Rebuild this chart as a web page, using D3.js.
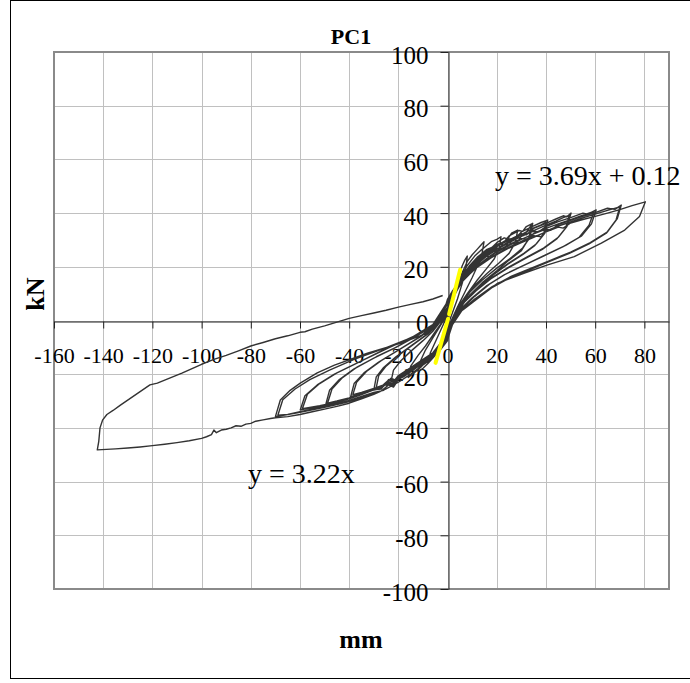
<!DOCTYPE html>
<html><head><meta charset="utf-8">
<script src="https://cdn.jsdelivr.net/npm/d3@7"></script>
<style>body{margin:0;background:#fff}svg{display:block}</style>
</head><body>
<script>
// ---------- data ----------
const xTicks = [-160,-140,-120,-100,-80,-60,-40,-20,0,20,40,60,80];
const yTicks = [-100,-80,-60,-40,-20,0,20,40,60,80,100];
const chartTitle = "PC1", xTitle = "mm", yTitle = "kN";

// hysteresis cycles [mm, kN]
const loop1 = [[0,0],[1,4],[2,8],[3,12],[4,15],[5,18],[6,20.5],[7,22.5],[8,24],
  [7.5,20],[6,14],[4,8],[2,3],[0,-2],
  [-2,-6.5],[-4,-10.5],[-6,-14],[-8,-16],
  [-7,-12],[-5,-8],[-3,-4],[-1,0],[0,2]];
const loop2 = [[2,8],[4,13.5],[6,18],[8,22],[10,24.5],[12,26.5],[13.5,28],[14.8,29.3],
  [14,25],[12,20],[10,16],[7,10.5],[4,5],[2,1],[0,-3],
  [-2,-7.5],[-4,-11],[-6,-14],[-8,-16],[-10,-17.8],[-12,-19],
  [-11,-15],[-9,-11],[-6,-6.5],[-3,-2],[0,2.5]];
const loop3 = [[2,8],[4,13],[6,17],[8,20.5],[11,24],[14,26.5],[16,28],[18,29.5],[20,30.2],[21.7,31.2],
  [21,27],[19,23],[16,19.5],[12,15],[8,10],[5,6],[2,1],[0,-3.5],
  [-2,-7.5],[-5,-11.5],[-8,-14.5],[-11,-17.5],[-14,-19.8],[-16,-21.2],
  [-15,-17],[-12,-13],[-9,-9.5],[-6,-5.5],[-3,-1.5],[0,3]];
const loop4 = [[2,8],[4,12.5],[6,16.5],[9,20.5],[12,23.5],[16,26.5],[18,27.2],[20,29],[23,30.8],[24.5,30.4],[26,32.5],[28.5,33.7],
  [27.5,29],[25,25],[21,21.5],[16,17.5],[11,13],[7,8.5],[4,4],[1,-1.5],[0,-4],
  [-3,-8.5],[-6,-12],[-10,-15.5],[-14,-18.5],[-18,-21],[-21,-22.3],[-23,-22.8],
  [-22,-18.5],[-19,-15],[-15,-11.5],[-10,-7.5],[-6,-4],[-3,-0.5],[0,4]];
const loop5 = [[2,8.5],[4,12.5],[6,16],[9,20],[12,23],[16,26],[20,28.5],[22,28.2],[25,31.5],[29,33.5],[30.5,33.2],[32,35],[34.6,36.2],
  [33.5,31],[30.5,27],[26,23.5],[20,19.5],[14,15],[9,10.5],[5,5.5],[2,0.5],[0,-4.5],
  [-3,-9],[-6,-12],[-10,-15],[-15,-18.5],[-20,-21.5],[-22,-23.8],[-24,-23],[-27,-25],[-30,-25.9],
  [-29,-21],[-26,-17.5],[-21,-13.5],[-15,-9.5],[-9,-5.5],[-4,-1],[0,4.5]];
const loop5b = [[2,8],[4,11.5],[6,14.5],[9,18],[12,21],[16,24],[18,23.6],[20,26.5],[25,29.5],[29,32],[31,31.6],[34,35.5],
  [33,30.5],[30,26],[25,22.5],[20,18.5],[14,14],[9,9.5],[5,4.5],[2,-0.5],[0,-5],
  [-3,-9.5],[-6,-12.5],[-10,-15],[-15,-18],[-19,-20.5],[-21,-22.8],[-23,-21.9],[-26,-24.2],[-29,-25],
  [-28,-20.5],[-25,-17],[-20,-13],[-14,-9],[-8,-5],[-3,-0.5],[0,4.5]];
const loop6 = [[2,9],[4,12.5],[6,15.5],[9,19.5],[12,22.5],[16,25.5],[20,28],[25,30.5],[27,30.1],[30,33],[35,35.2],[38,36.5],[40.7,37.4],
  [39.5,32.5],[36,28.5],[31,25],[25,21.5],[19,17.5],[13,13],[8,8.5],[4,3.5],[1,-2],[0,-5],
  [-3,-9],[-6,-12],[-10,-14.5],[-15,-17.5],[-20,-20.5],[-22,-22.8],[-24,-22],[-26,-24.5],[-30,-25.8],[-35,-27.3],[-39.4,-28.4],
  [-38,-23.5],[-34,-19.5],[-28,-15.5],[-20,-11],[-12,-6.5],[-5,-1.5],[0,5]];
const loop6b = [[2,8.5],[4,12],[6,15],[9,18.5],[12,21.5],[16,24.5],[20,27],[23,26.6],[25,29.5],[30,32],[35,34.5],[38,35.6],[40,36.6],
  [39,32],[35.5,28],[30.5,24.5],[24.5,21],[18.5,17],[12.5,12.5],[7.5,8],[3.5,3],[1,-2.5],[0,-5.5],
  [-3,-9.5],[-6,-12.5],[-10,-15],[-15,-18],[-19,-20],[-21,-22.3],[-23,-21.5],[-26,-24],[-30,-25.3],[-35,-26.8],[-38.5,-27.6],
  [-37,-23],[-33,-19],[-27,-15],[-19,-10.5],[-11,-6],[-4,-1],[0,5]];
const loop7 = [[2,9],[4,12.5],[6,15.5],[9,19],[12,22],[16,25],[20,27.5],[25,30],[30,32.3],[32,31.9],[35,34.3],[40,36.2],[44,37.8],[47,39],[48.5,38.6],[50.2,40],
  [48.5,35],[45,31],[39,27],[32,23.5],[25,20],[18,16],[12,11.5],[7,7],[3,1.5],[0,-5.5],
  [-3,-9.5],[-6,-12],[-10,-14.5],[-15,-17.5],[-19,-20],[-21,-22.5],[-23,-21.8],[-25,-24],[-30,-25.5],[-35,-27.3],[-40,-29],[-45,-30.3],[-49.6,-31.5],
  [-48,-26],[-44,-22],[-38,-18],[-30,-14],[-22,-10.5],[-14,-6.5],[-6,-2],[0,6]];
const loop7b = [[2,8.5],[4,12],[6,14.5],[9,18],[12,21],[16,24],[20,26.5],[25,29],[28,28.6],[30,31.5],[35,33.5],[40,35.5],[44,37],[47,38.3],[49.5,39.2],
  [48,34.5],[44.5,30.5],[38.5,26.5],[31.5,23],[24.5,19.5],[17.5,15.5],[11.5,11],[6.5,6.5],[2.5,1],[0,-6],
  [-3,-10],[-6,-12.5],[-10,-15],[-15,-18],[-19,-20.5],[-22,-23],[-24,-22.2],[-27,-24.8],[-30,-25.8],[-35,-27.3],[-40,-28.8],[-45,-30],[-48.8,-30.8],
  [-47,-25.5],[-43,-21.5],[-37,-17.5],[-29,-13.5],[-21,-10],[-13,-6],[-5,-1.5],[0,6.5]];
const loop8 = [[2,10],[4,13],[6,15.5],[9,18.5],[12,21],[16,24],[20,26.5],[25,29],[30,31.3],[35,33.3],[37,33],[40,35],[45,36.8],[50,38.3],[55,40],[57,39.6],[60.4,41.2],
  [58.5,36],[54.5,31.5],[48,28],[40,24.5],[32,21],[24,17.5],[17,13.5],[11,9],[6,4.5],[2,-1],[0,-6],
  [-3,-10],[-6,-12.5],[-10,-15],[-15,-18],[-20,-21],[-23,-24],[-25,-23.2],[-27,-25.5],[-30,-25.8],[-35,-27.6],[-40,-29.2],[-45,-30.5],[-50,-31.5],[-55,-32.5],[-59.9,-33.3],
  [-58,-28],[-53,-24],[-46,-20],[-36,-15.5],[-25,-10.5],[-14,-6],[-6,-1.5],[0,7]];
const loop8b = [[2,9.5],[4,12.5],[6,15],[9,17.8],[12,20.3],[16,23.2],[20,25.8],[25,28.3],[30,30.5],[33,30.1],[35,32.5],[40,34.3],[45,36],[50,37.6],[55,39.2],[59.5,40.6],
  [57.5,35.5],[53.5,31],[47,27.5],[39,24],[31,20.5],[23,17],[16,13],[10,8.5],[5,4],[1.5,-1.5],[0,-6.5],
  [-3,-10.5],[-6,-13],[-10,-15.5],[-15,-18.5],[-20,-21.3],[-23,-23.8],[-25,-23],[-28,-25.5],[-32,-26.3],[-37,-28],[-42,-29.6],[-47,-30.8],[-52,-31.7],[-59,-32.8],
  [-57,-27.5],[-52,-23.5],[-45,-19.5],[-35,-15],[-24,-10.2],[-13,-5.5],[-5,-1],[0,7]];
const loop9 = [[2,10.5],[4,13],[6,15],[9,18],[12,20.5],[16,23],[20,25.5],[25,28],[30,30.2],[35,32.3],[40,34],[42,33.6],[45,35.8],[50,37.3],[55,38.8],[60,40.2],[65,41.8],[68,41.4],[70.6,43],
  [69,38],[65,33],[58,29],[50,25.5],[42,22.5],[34,19.5],[26,16.5],[18,12.5],[11,8],[6,4],[2,-1.5],[0,-7],
  [-3,-10.5],[-6,-13],[-10,-15.5],[-15,-18.5],[-20,-21.5],[-22,-24.5],[-24,-23.5],[-26,-26],[-30,-26.8],[-35,-28.3],[-40,-29.8],[-45,-31],[-50,-32],[-55,-33],[-60,-34],[-65,-35],[-70,-35.8],
  [-68,-29.6],[-64,-26],[-59.9,-23.3],[-53,-19.5],[-46,-16.6],[-32.6,-12.2],[-19,-8.4],[-8.2,-4.7],[-4,-1],[-1.5,3.5],[0,8]];
const loop9b = [[2,10],[4,12.5],[6,14.5],[9,17.3],[12,19.8],[16,22.3],[20,24.8],[25,27.3],[30,29.5],[35,31.6],[38,31.2],[40,33.3],[45,35.2],[50,36.7],[55,38.2],[60,39.6],[65,41],[70,42.3],
  [68.5,37.5],[64.5,32.5],[57.5,28.5],[49.5,25],[41.5,22],[33.5,19],[25.5,16],[17.5,12],[10.5,7.5],[5.5,3.5],[1.5,-2],[0,-7.5],
  [-3,-11],[-6,-13.5],[-10,-16],[-15,-19],[-20,-22],[-22,-24.8],[-24,-24],[-27,-26.3],[-30,-27.2],[-35,-28.7],[-40,-30.2],[-45,-31.3],[-50,-32.3],[-55,-33.3],[-60,-34.2],[-65,-35],[-69,-35.3],
  [-67,-29.5],[-62,-25.5],[-56,-22],[-48,-18.5],[-38,-14.5],[-26,-10.5],[-15,-6.5],[-7,-3],[-2,1.5],[0,8]];
const loop10 = [[2,11],[4,13.5],[6,15.5],[9,18],[12,20],[16,22.5],[20,24.5],[25,27],[30,29],[35,31],[40,33],[45,34.8],[47,34.4],[50,36.3],[55,37.6],[60,38.8],[65,40],[70,41.3],[75,42.8],[80.4,44.2],
  [78,38.7],[72,33.7],[62.5,28.8],[51.5,23.8],[40.7,20.7],[31,17.6],[20.4,13.9],[12,8],[7,4.5],[2.6,1.5],[0,-3],
  [-3,-11],[-6,-14],[-10,-16.5],[-15,-20],[-20,-23],[-25,-25.5],[-30,-27.5],[-35,-29.2],[-40,-30.8],[-45,-32],[-50,-33],[-55,-34],[-60,-35],[-65,-35.8],[-70,-36.2],
  [-72,-36.5],[-75,-37],[-78,-37.5],[-80,-38.3],[-82,-38.6],[-84,-39.4],[-86,-39.2],[-88,-40],[-90,-40.5],[-92,-40.8],[-94,-41.8],[-95,-40.8],[-96,-42.5],[-98,-43.3],[-100,-43.9],
  [-105,-44.8],[-110,-45.5],[-115,-46.1],[-120,-46.6],[-125,-47.1],[-130,-47.5],[-135,-47.8],[-142.4,-48.2]];
const finalReturn = [[-142.4,-48.2],[-141.8,-45],[-141.3,-40],[-140.2,-37],[-138.5,-35],[-136,-33.5],[-133,-31.5],[-129,-29],[-125,-26.5],[-121,-24],[-118,-23.3],
  [-114,-21.8],[-108,-19.6],[-100,-16.3],[-95,-14.5],[-90,-13],[-85,-11.3],[-80,-9.5],[-75,-8.2],[-70,-6.8],[-65,-5.7],[-60,-4.4],[-58,-4.2],[-55,-3.2],
  [-50,-2],[-45,-0.6],[-40,0.8],[-35,1.8],[-30,2.8],[-25,3.8],[-20,5],[-15,6],[-10,7],[-6,8],[-2,9.3]];
const cycles = [loop1,loop2,loop3,loop4,loop5,loop5b,loop6,loop6b,loop7,loop7b,loop8,loop8b,loop9,loop9b,loop10,finalReturn];

// trend lines (Excel linear trendlines)
const trendSlopes = [3.69, 3.22];
const trendIntercepts = [0.12, 0];
const trendXStart = [0.6, -4.9];
const trendXEnd = [5.1, 0.2];
const trendLabels = ["y = 3.69x + 0.12", "y = 3.22x"];

// ---------- drawing ----------
const W = 690, H = 683;
const L = 54, T = 52, R = 669, B = 589;
const svg = d3.select("body").append("svg").attr("width", W).attr("height", H);
const serif = "'Liberation Serif', 'Times New Roman', serif";

svg.append("rect").attr("x", 10.5).attr("y", 0.5).attr("width", 690).attr("height", 678)
  .attr("fill", "#fff").attr("stroke", "#000").attr("stroke-width", 1);

const x = d3.scaleLinear().domain([-160, 90]).range([L, R]);
const y = d3.scaleLinear().domain([-100, 100]).range([B, T]);

// gridlines
const grid = svg.append("g").attr("stroke", "#c0c0c0").attr("stroke-width", 1);
grid.selectAll(".vx").data(xTicks).join("line")
  .attr("x1", d => Math.round(x(d)) + 0.5).attr("x2", d => Math.round(x(d)) + 0.5)
  .attr("y1", T).attr("y2", B);
grid.selectAll(".hy").data(yTicks).join("line")
  .attr("y1", d => Math.round(y(d)) + 0.5).attr("y2", d => Math.round(y(d)) + 0.5)
  .attr("x1", L).attr("x2", R);

// plot border
svg.append("rect").attr("x", L).attr("y", T).attr("width", R - L).attr("height", B - T)
  .attr("fill", "none").attr("stroke", "#8a8a8a").attr("stroke-width", 2);

// axes
const xAxis = d3.axisBottom(x).tickValues(xTicks).tickSize(7).tickSizeOuter(0).tickFormat(d => String(d));
const gx = svg.append("g").attr("transform", `translate(0,${Math.round(y(0)) + 0.5})`).call(xAxis)
  .attr("font-family", null).attr("font-size", null);
gx.select(".domain").attr("stroke", "#222");
gx.selectAll(".tick line").attr("stroke", "#222");
gx.selectAll("text").attr("y", 41).attr("dy", 0)
  .style("font-family", serif).style("font-size", "22px").attr("fill", "#000");

const yAxis = d3.axisLeft(y).tickValues(yTicks).tickSize(8).tickSizeOuter(0).tickFormat(d => String(d));
const gy = svg.append("g").attr("transform", `translate(${Math.round(x(0)) + 0.5},0)`).call(yAxis)
  .attr("font-family", null).attr("font-size", null);
gy.select(".domain").attr("stroke", "#222");
gy.selectAll(".tick line").attr("stroke", "#222");
gy.selectAll("text").attr("x", -20).attr("dy", 0).attr("y", 11)
  .style("font-family", serif).style("font-size", "25px").attr("fill", "#000");

// hysteresis curve
const line = d3.line().x(d => x(d[0])).y(d => y(d[1]));
svg.append("path").datum(cycles.flat()).attr("d", line)
  .attr("fill", "none").attr("stroke", "#333").attr("stroke-width", 1.4).attr("stroke-linejoin", "round");

// trend lines
svg.selectAll(".trend").data(trendSlopes).join("line")
  .attr("x1", (s, i) => x(trendXStart[i])).attr("y1", (s, i) => y(s * trendXStart[i] + trendIntercepts[i]))
  .attr("x2", (s, i) => x(trendXEnd[i])).attr("y2", (s, i) => y(s * trendXEnd[i] + trendIntercepts[i]))
  .attr("stroke", "#ffff00").attr("stroke-width", 4).attr("stroke-linecap", "round");

// equation labels
svg.append("text").attr("x", 495).attr("y", 185).style("font-family", serif).style("font-size", "28px").text(trendLabels[0]);
svg.append("text").attr("x", 248).attr("y", 483).style("font-family", serif).style("font-size", "28px").text(trendLabels[1]);

// titles
svg.append("text").attr("x", 351).attr("y", 44).attr("text-anchor", "middle").style("font-family", serif)
  .style("font-weight", "bold").style("font-size", "22px").text(chartTitle);
svg.append("text").attr("x", 361).attr("y", 648).attr("text-anchor", "middle").style("font-family", serif)
  .style("font-weight", "bold").style("font-size", "26px").text(xTitle);
svg.append("text").attr("transform", "translate(44,294) rotate(-90)").attr("text-anchor", "middle").style("font-family", serif)
  .style("font-weight", "bold").style("font-size", "26px").text(yTitle);
</script>
</body></html>
